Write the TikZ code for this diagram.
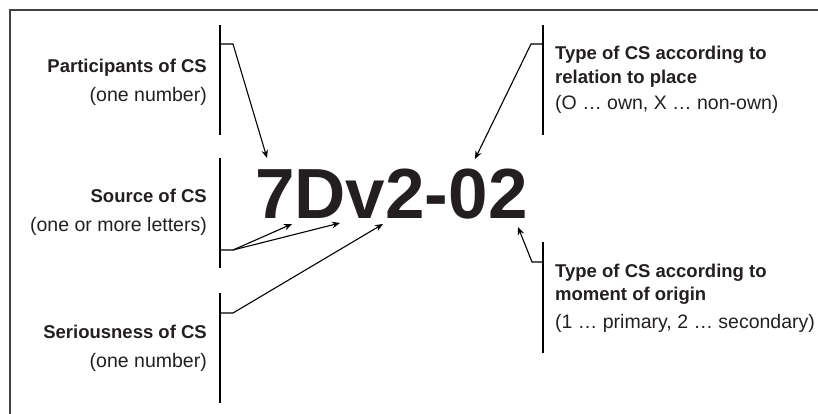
\documentclass[tikz,border=0pt]{standalone}
\usepackage{fontspec}
\setmainfont{Liberation Sans}
\usetikzlibrary{arrows.meta}
\definecolor{ink}{HTML}{231F20}
\begin{document}
\begin{tikzpicture}[x=1pt,y=-1pt,
  lbl/.style={inner sep=0pt,text=ink,font=\fontsize{19.5}{22}\selectfont},
  blbl/.style={lbl,font=\bfseries\fontsize{18.5}{22}\selectfont},
  brk/.style={line width=1.2pt,black},
  arr/.style={line width=1.1pt,black,-{Stealth[length=8pt,width=6.5pt]}}]
\useasboundingbox (0,0) rectangle (818,414);
% frame
\draw[line width=2pt,ink!85] (818,10) -- (10,10) -- (10,414);
% big code
\node[inner sep=0pt,anchor=base west,text=ink,font=\bfseries\fontsize{71}{71}\selectfont] (code) at (255,218) {7Dv2-02};
% left labels
\node[blbl,anchor=base east] (p1) at (207,72.5) {Participants of CS};
\node[lbl,anchor=base east] (p2) at (207,102) {(one number)};
\node[blbl,anchor=base east] (s1) at (207,202) {Source of CS};
\node[lbl,anchor=base east] (s2) at (207,231.5) {(one or more letters)};
\node[blbl,anchor=base east] (r1) at (207,338) {Seriousness of CS};
\node[lbl,anchor=base east] (r2) at (207,367) {(one number)};
% right labels
\node[blbl,anchor=base west] (t1) at (555,60) {Type of CS according to};
\node[blbl,anchor=base west] (t2) at (555,83.5) {relation to place};
\node[lbl,anchor=base west] (t3) at (555,110) {(O … own, X … non-own)};
\node[blbl,anchor=base west] (m1) at (555,277.5) {Type of CS according to};
\node[blbl,anchor=base west] (m2) at (555,300.5) {moment of origin};
\node[lbl,anchor=base west] (m3) at (555,328) {(1 … primary, 2 … secondary)};
% bracket coordinates
\coordinate (L1a) at (220,25);  \coordinate (L1b) at (220,135);
\coordinate (L2a) at (220,158); \coordinate (L2b) at (220,268);
\coordinate (L3a) at (220,293); \coordinate (L3b) at (220,403);
\coordinate (R1a) at (543,25);  \coordinate (R1b) at (543,135);
\coordinate (R2a) at (543,242); \coordinate (R2b) at (543,353);
\coordinate (L1t) at (220,44);  \coordinate (L1e) at (233,44);
\coordinate (L2t) at (220,250); \coordinate (L2e) at (233,250);
\coordinate (L3t) at (220,313); \coordinate (L3e) at (233,313);
\coordinate (R1t) at (543,44);  \coordinate (R1e) at (531,44);
\coordinate (R2t) at (543,262); \coordinate (R2e) at (532,262);
% arrow targets
\coordinate (a7) at (267,158);
\coordinate (aD) at (292,224);
\coordinate (av) at (340,223);
\coordinate (a2) at (383,224);
\coordinate (aO) at (475,159);
\coordinate (aE) at (518,227);
% brackets
\draw[brk] (L1a) -- (L1b);
\draw[brk] (L2a) -- (L2b);
\draw[brk] (L3a) -- (L3b);
\draw[brk] (R1a) -- (R1b);
\draw[brk] (R2a) -- (R2b);
% arrows
\draw[arr] (L1t) -- (L1e) -- (a7);
\draw[arr] (L2t) -- (L2e) -- (aD);
\draw[arr] (L2e) -- (av);
\draw[arr] (L3t) -- (L3e) -- (a2);
\draw[arr] (R1t) -- (R1e) -- (aO);
\draw[arr] (R2t) -- (R2e) -- (aE);
\end{tikzpicture}
\end{document}
